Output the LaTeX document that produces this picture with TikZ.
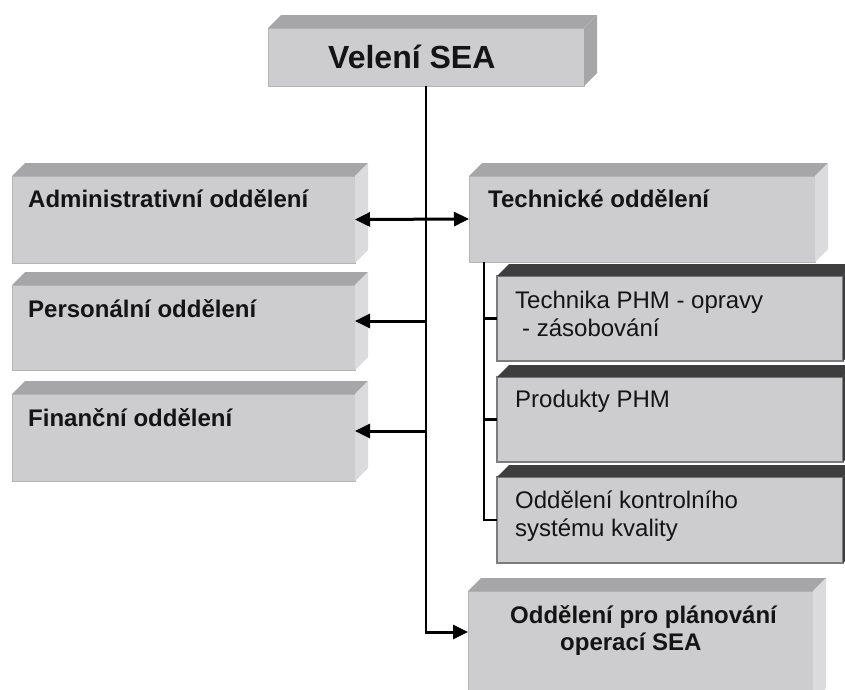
\documentclass[tikz,border=0pt]{standalone}
\usepackage{fontspec}
\setmainfont{Liberation Sans}
\usetikzlibrary{arrows.meta,calc}

\definecolor{facegray}{HTML}{CDCDCF}
\definecolor{topgray}{HTML}{A6A6A8}
\definecolor{sidegray}{HTML}{DBDBDD}
\definecolor{edgegray}{HTML}{B4B4B6}
\definecolor{darktop}{HTML}{3E3E3F}
\definecolor{subedge}{HTML}{7C7C7E}
\definecolor{ink}{HTML}{141414}

\tikzset{
  face/.style={rectangle, anchor=north west, inner sep=0pt, outer sep=0pt,
    fill=facegray, draw=edgegray, line width=1pt},
  subface/.style={face, draw=subedge, line width=1.4pt},
  lbl/.style={anchor=base west, inner sep=0pt, text=ink,
    font=\fontsize{24}{28}\selectfont\bfseries},
  sublbl/.style={anchor=base west, inner sep=0pt, text=ink,
    font=\fontsize{24}{28}\selectfont},
  link/.style={draw=black, line width=2.2pt},
  flow/.style={draw=black, line width=3pt,
    -{Triangle[length=15pt,width=14pt]}},
  flowboth/.style={draw=black, line width=3pt,
    {Triangle[length=15pt,width=14pt]}-{Triangle[length=15pt,width=14pt]}}
}

% raised block: top bevel and side face behind the front face
\newcommand{\bevelbox}[4]{% name, top colour, side colour, depth
  \fill[#2] (#1.north west) -- ++(#4,-#4) -- ($(#1.north east)+(#4,-#4)$) -- (#1.north east) -- cycle;
  \fill[#3] (#1.north east) -- ++(#4,-#4) -- ($(#1.south east)+(#4,-#4)$) -- (#1.south east) -- cycle;
}

\begin{document}
\begin{tikzpicture}[x=1pt,y=-1pt]
\useasboundingbox (0,0) rectangle (845,689);
\fill[white] (0,0) rectangle (845,689);

% front faces
\node[face, minimum width=316pt, minimum height=58pt] (vel) at (268,28) {};
\node[face, minimum width=343pt, minimum height=87pt] (adm) at (12,176) {};
\node[face, minimum width=343pt, minimum height=85pt] (per) at (12,285) {};
\node[face, minimum width=343pt, minimum height=87pt] (fin) at (12,394) {};
\node[face, minimum width=346pt, minimum height=86pt] (tech) at (469,176) {};
\node[subface, minimum width=346pt, minimum height=85pt] (t1) at (497,276) {};
\node[subface, minimum width=346pt, minimum height=85pt] (t2) at (497,377) {};
\node[subface, minimum width=346pt, minimum height=86pt] (t3) at (497,477) {};
\node[face, minimum width=345pt, minimum height=110pt] (plan) at (468,591) {};

% bevels
\bevelbox{vel}{topgray}{topgray}{13}
\bevelbox{adm}{topgray}{sidegray}{13}
\bevelbox{per}{topgray}{sidegray}{13}
\bevelbox{fin}{topgray}{sidegray}{13}
\bevelbox{tech}{topgray}{sidegray}{13}
\bevelbox{plan}{topgray}{sidegray}{13}
\bevelbox{t1}{darktop}{darktop}{12}
\bevelbox{t2}{darktop}{darktop}{12}
\bevelbox{t3}{darktop}{darktop}{12}

% labels
\node[lbl, font=\fontsize{32}{36}\selectfont\bfseries] (velt) at (328,68) {Velení SEA};
\node[lbl] (admt) at (28,207) {Administrativní oddělení};
\node[lbl] (pert) at (28,317) {Personální oddělení};
\node[lbl] (fint) at (28,426) {Finanční oddělení};
\node[lbl] (techt) at (488,207) {Technické oddělení};
\node[sublbl] (t1a) at (515,308) {Technika PHM - opravy};
\node[sublbl] (t1b) at (522,336) {- zásobování};
\node[sublbl] (t2a) at (515,407) {Produkty PHM};
\node[sublbl] (t3a) at (515,508) {Oddělení kontrolního};
\node[sublbl] (t3b) at (515,536) {systému kvality};
\node[lbl] (plana) at (510,623) {Oddělení pro plánování};
\node[lbl] (planb) at (560,650) {operací SEA};

% trunk from the command down to planning
\coordinate (trunkend) at (vel.south |- 0,632);
\draw[link] (vel.south) -- (trunkend);
\draw[flow] ([xshift=-1pt]trunkend) -- (plan.west |- trunkend);

% links to the departments
\draw[flowboth] (adm.east) -- (tech.west);
\draw[flow] (vel.south |- 0,321) -- (per.east |- 0,321);
\draw[flow] (vel.south |- 0,431) -- (fin.east |- 0,431);

% technical sub-branch
\coordinate (branch) at ([xshift=15pt]tech.south west);
\draw[link] (branch) |- (t3.west);
\draw[link] (branch |- t1.west) -- (t1.west);
\draw[link] (branch |- t2.west) -- (t2.west);
\end{tikzpicture}
\end{document}
